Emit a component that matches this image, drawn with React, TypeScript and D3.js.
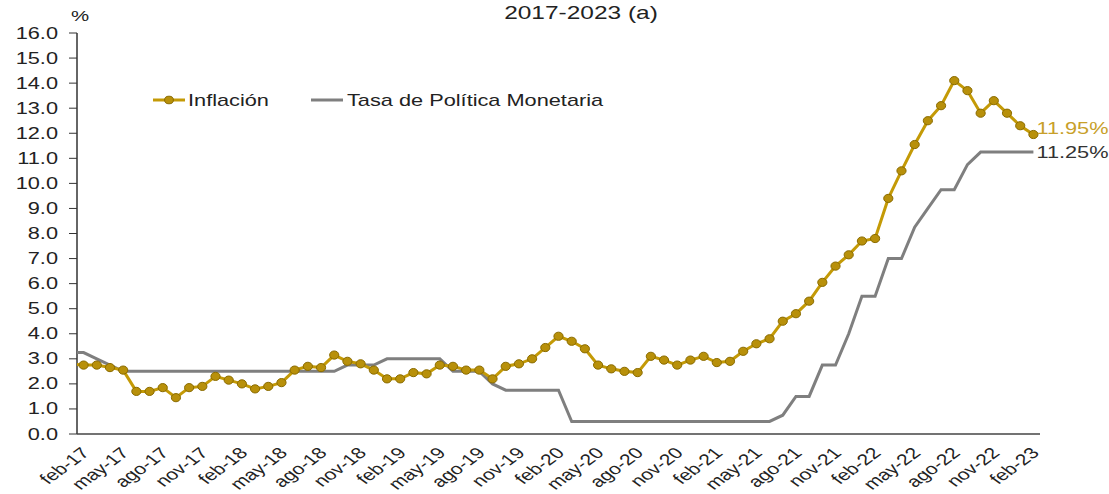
import React, { useRef, useEffect } from 'react'
import * as d3 from 'd3'

// meses (ene-17 sirve sólo para el tramo que entra por el eje)
const categorias = [
  'ene-17', 'feb-17', 'mar-17', 'abr-17', 'may-17', 'jun-17', 'jul-17', 'ago-17', 'sep-17', 'oct-17', 'nov-17', 'dic-17',
  'ene-18', 'feb-18', 'mar-18', 'abr-18', 'may-18', 'jun-18', 'jul-18', 'ago-18', 'sep-18', 'oct-18', 'nov-18', 'dic-18',
  'ene-19', 'feb-19', 'mar-19', 'abr-19', 'may-19', 'jun-19', 'jul-19', 'ago-19', 'sep-19', 'oct-19', 'nov-19', 'dic-19',
  'ene-20', 'feb-20', 'mar-20', 'abr-20', 'may-20', 'jun-20', 'jul-20', 'ago-20', 'sep-20', 'oct-20', 'nov-20', 'dic-20',
  'ene-21', 'feb-21', 'mar-21', 'abr-21', 'may-21', 'jun-21', 'jul-21', 'ago-21', 'sep-21', 'oct-21', 'nov-21', 'dic-21',
  'ene-22', 'feb-22', 'mar-22', 'abr-22', 'may-22', 'jun-22', 'jul-22', 'ago-22', 'sep-22', 'oct-22', 'nov-22', 'dic-22',
  'ene-23', 'feb-23',
]

const inflacion = [
  2.8, 2.75, 2.75, 2.65, 2.55, 1.7, 1.7, 1.85, 1.45, 1.85, 1.9, 2.3,
  2.15, 2.0, 1.8, 1.9, 2.05, 2.55, 2.7, 2.65, 3.15, 2.9, 2.8, 2.55,
  2.2, 2.2, 2.45, 2.4, 2.75, 2.7, 2.55, 2.55, 2.2, 2.7, 2.8, 3.0,
  3.45, 3.9, 3.7, 3.4, 2.75, 2.6, 2.5, 2.45, 3.1, 2.95, 2.75, 2.95,
  3.1, 2.85, 2.9, 3.3, 3.6, 3.8, 4.5, 4.8, 5.3, 6.05, 6.7, 7.15,
  7.7, 7.8, 9.4, 10.5, 11.55, 12.5, 13.1, 14.1, 13.7, 12.8, 13.3, 12.8,
  12.3, 11.95,
]

const tpm = [
  3.25, 3.25, 3.0, 2.75, 2.5, 2.5, 2.5, 2.5, 2.5, 2.5, 2.5, 2.5,
  2.5, 2.5, 2.5, 2.5, 2.5, 2.5, 2.5, 2.5, 2.5, 2.75, 2.75, 2.75,
  3.0, 3.0, 3.0, 3.0, 3.0, 2.5, 2.5, 2.5, 2.0, 1.75, 1.75, 1.75,
  1.75, 1.75, 0.5, 0.5, 0.5, 0.5, 0.5, 0.5, 0.5, 0.5, 0.5, 0.5,
  0.5, 0.5, 0.5, 0.5, 0.5, 0.5, 0.75, 1.5, 1.5, 2.75, 2.75, 4.0,
  5.5, 5.5, 7.0, 7.0, 8.25, 9.0, 9.75, 9.75, 10.75, 11.25, 11.25, 11.25,
  11.25, 11.25,
]

const etiquetasX = [
  'feb-17', 'may-17', 'ago-17', 'nov-17', 'feb-18', 'may-18', 'ago-18', 'nov-18',
  'feb-19', 'may-19', 'ago-19', 'nov-19', 'feb-20', 'may-20', 'ago-20', 'nov-20',
  'feb-21', 'may-21', 'ago-21', 'nov-21', 'feb-22', 'may-22', 'ago-22', 'nov-22', 'feb-23',
]

const ticksY = d3.range(0, 17, 1)

const ORO = '#C49A06'
const GRIS = '#7f7f7f'
const FUENTE = '"Liberation Sans", Arial, sans-serif'
// el original está estirado a lo ancho
const SX = 1.36

function App() {
  const svgRef = useRef(null)

  useEffect(() => {
    const svg = d3.select(svgRef.current)
    svg.selectAll('*').remove()

    const width = 1109
    const height = 494
    const left = 77
    const right = 1040
    const top = 33
    const bottom = 434

    svg.attr('width', width).attr('height', height).style('font-family', FUENTE)

    //texto estirado horizontalmente
    const texto = (g: any, x: number, y: number, t: string, size: number, fill: string, anchor = 'start') =>
      g.append('text')
        .attr('transform', `translate(${x},${y}) scale(${SX},1)`)
        .attr('text-anchor', anchor)
        .attr('font-size', size)
        .attr('fill', fill)
        .text(t)

    //escalas: cada mes ocupa una banda, el punto va al centro
    const x = d3.scaleLinear().domain([0.5, categorias.length - 0.5]).range([left, right])
    const y = d3.scaleLinear().domain([0, 16]).range([bottom, top])

    //titulo
    texto(svg, 581, 19, '2017-2023  (a)', 18, '#222', 'middle')
    texto(svg, 80, 21, '%', 15, '#222', 'middle')

    //eje Y
    svg.append('line')
      .attr('x1', left).attr('x2', left)
      .attr('y1', top).attr('y2', bottom)
      .attr('stroke', '#333').attr('stroke-width', 1.5)
    svg.append('g')
      .selectAll('line')
      .data(ticksY)
      .join('line')
      .attr('x1', left - 8).attr('x2', left)
      .attr('y1', (d) => y(d)).attr('y2', (d) => y(d))
      .attr('stroke', '#333')
    const etiqY = svg.append('g')
    ticksY.forEach((d) => texto(etiqY, 58, y(d) + 5.5, d3.format('.1f')(d), 16, '#222', 'end'))

    //eje X
    svg.append('line')
      .attr('x1', left).attr('x2', right)
      .attr('y1', bottom).attr('y2', bottom)
      .attr('stroke', '#444').attr('stroke-width', 1.5)

    svg.append('g')
      .selectAll('text')
      .data(etiquetasX)
      .join('text')
      .attr('transform', (d) => `translate(${x(categorias.indexOf(d)) + 7},${bottom + 20}) scale(${SX},1) rotate(-45)`)
      .attr('text-anchor', 'end')
      .attr('font-size', 15.5)
      .attr('fill', '#222')
      .text((d) => d)

    //recorte al área del gráfico
    svg.append('clipPath').attr('id', 'area')
      .append('rect')
      .attr('x', left).attr('y', 0)
      .attr('width', right - left).attr('height', bottom)

    const linea = d3.line<number>()
      .x((d, i) => x(i))
      .y((d) => y(d))

    const plot = svg.append('g').attr('clip-path', 'url(#area)')

    plot.append('path')
      .datum(tpm)
      .attr('d', linea)
      .attr('fill', 'none')
      .attr('stroke', GRIS)
      .attr('stroke-width', 3)

    plot.append('path')
      .datum(inflacion)
      .attr('d', linea)
      .attr('fill', 'none')
      .attr('stroke', ORO)
      .attr('stroke-width', 3)

    plot.append('g')
      .selectAll('ellipse')
      .data(inflacion)
      .join('ellipse')
      .attr('cx', (d, i) => x(i))
      .attr('cy', (d) => y(d))
      .attr('rx', 4.6)
      .attr('ry', 4.1)
      .attr('fill', '#B8900A')
      .attr('stroke', '#8a6b00')
      .attr('stroke-width', 1)

    //ultimos valores
    const n = categorias.length - 1
    texto(svg, x(n) + 3, y(inflacion[n]) - 1, `${d3.format('.2f')(inflacion[n])}%`, 16, '#C8A02A')
    texto(svg, x(n) + 3, y(tpm[n]) + 6, `${d3.format('.2f')(tpm[n])}%`, 16, '#333')

    //leyenda
    const leyenda = svg.append('g')
    leyenda.append('line')
      .attr('x1', 153).attr('x2', 185).attr('y1', 100).attr('y2', 100)
      .attr('stroke', ORO).attr('stroke-width', 3)
    leyenda.append('ellipse')
      .attr('cx', 169).attr('cy', 100).attr('rx', 4.4).attr('ry', 3.8)
      .attr('fill', '#B8900A').attr('stroke', '#8a6b00')
    texto(leyenda, 188, 106, 'Inflación', 16, '#222')
    leyenda.append('line')
      .attr('x1', 311).attr('x2', 343).attr('y1', 100).attr('y2', 100)
      .attr('stroke', GRIS).attr('stroke-width', 3)
    texto(leyenda, 347, 106, 'Tasa de Política Monetaria', 16, '#222')
  }, [])

  return (
    <div style={{ position: 'absolute', left: 0, top: 0, width: 1109, height: 494, background: '#fff' }}>
      <svg ref={svgRef} style={{ display: 'block' }} />
    </div>
  )
}

export default App
